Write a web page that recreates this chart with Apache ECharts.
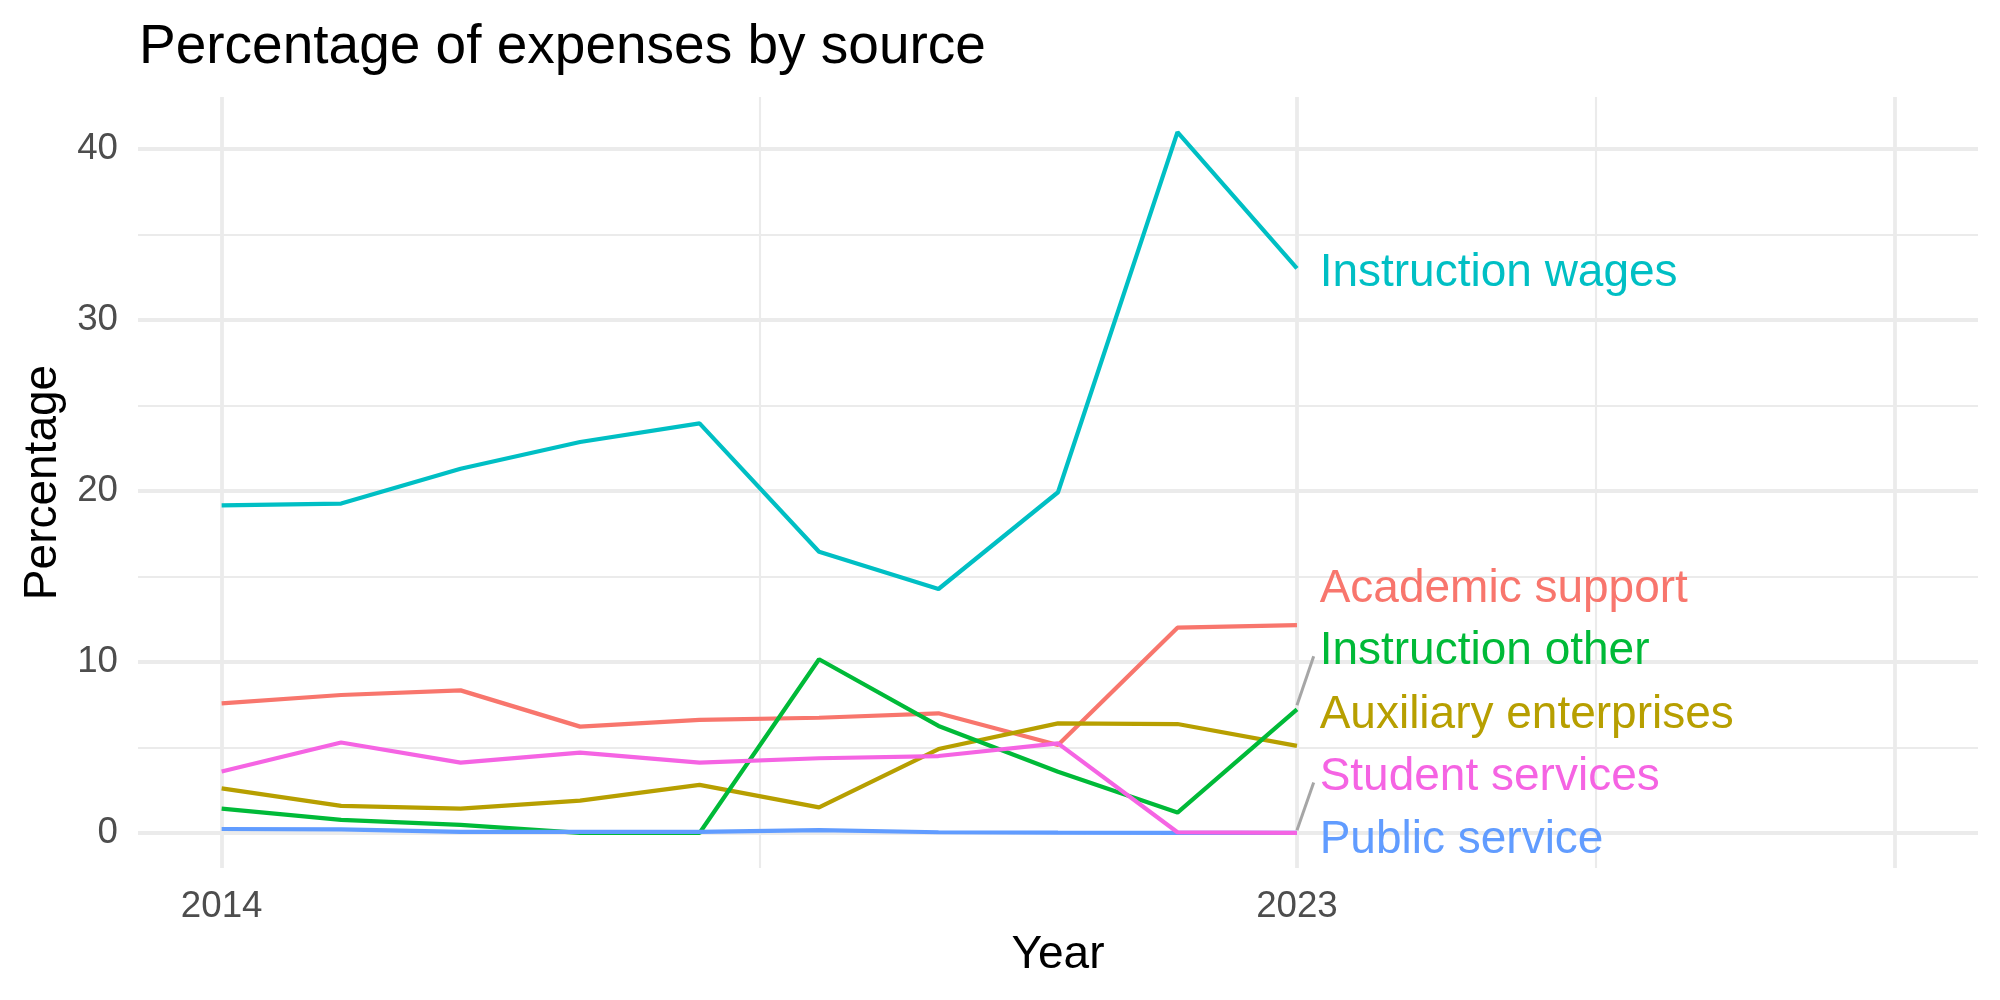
<!DOCTYPE html>
<html>
<head>
<meta charset="utf-8">
<title>Percentage of expenses by source</title>
<script src="https://cdn.jsdelivr.net/npm/echarts@6/dist/echarts.min.js"></script>
<style>
  html, body { margin: 0; padding: 0; background: #fff; }
  #chart { width: 2000px; height: 1000px; }
</style>
</head>
<body>
<div id="chart"></div>
<script>
// data (percent of expenses)
const years = [2014, 2015, 2016, 2017, 2018, 2019, 2020, 2021, 2022, 2023];
const seriesNames = ['Academic support', 'Auxiliary enterprises', 'Instruction other',
  'Instruction wages', 'Public service', 'Student services'];
const academicSupport = [7.58, 8.07, 8.34, 6.22, 6.61, 6.74, 7.0, 5.15, 12.01, 12.16];
const auxiliaryEnterprises = [2.61, 1.58, 1.42, 1.89, 2.81, 1.50, 4.91, 6.41, 6.37, 5.09];
const instructionOther = [1.42, 0.76, 0.47, 0.0, 0.0, 10.16, 6.26, 3.58, 1.19, 7.23];
const instructionWages = [19.16, 19.27, 21.3, 22.87, 23.96, 16.45, 14.27, 19.93, 41.0, 33.02];
const publicService = [0.23, 0.21, 0.06, 0.06, 0.06, 0.17, 0.04, 0.02, 0.01, 0.0];
const studentServices = [3.59, 5.29, 4.11, 4.70, 4.11, 4.37, 4.50, 5.24, 0.04, 0.0];

// axis breaks
const xLabelBreaks = [2014, 2023];
const xMajorBreaks = [2014, 2023, 2028];
const xMinorBreaks = [2018.5, 2025.5];
const yMajorBreaks = [0, 10, 20, 30, 40];
const yMinorBreaks = [5, 15, 25, 35];

// repelled end labels (data units) and their connector segments
const labelX = 2023.19;
const labelY = [14.27, 6.89, 10.61, 32.71, -0.42, 3.26];
const segmentOther = [[2023, 7.47], [2023.14, 10.34]];
const segmentStudent = [[2023, 0.16], [2023.14, 2.95]];

const colors = ['#F8766D', '#B79F00', '#00BA38', '#00BFC4', '#619CFF', '#F564E3'];
const values = [academicSupport, auxiliaryEnterprises, instructionOther,
  instructionWages, publicService, studentServices];

const font = "'Liberation Sans', Arial, sans-serif";

const chart = echarts.init(document.getElementById('chart'), null, { renderer: 'canvas' });

// grid lines as mark lines on an empty series
const gridLines = [];
yMajorBreaks.forEach(v => gridLines.push({ yAxis: v, lineStyle: { width: 3.8 } }));
yMinorBreaks.forEach(v => gridLines.push({ yAxis: v, lineStyle: { width: 2.1 } }));
xMajorBreaks.forEach(v => gridLines.push({ xAxis: v, lineStyle: { width: 3.8 } }));
xMinorBreaks.forEach(v => gridLines.push({ xAxis: v, lineStyle: { width: 2.1 } }));

const series = [{
  name: 'grid',
  type: 'line',
  data: [],
  silent: true,
  markLine: {
    silent: true,
    symbol: ['none', 'none'],
    label: { show: false },
    z: 0,
    lineStyle: { color: '#EBEBEB', type: 'solid' },
    emphasis: { disabled: true },
    data: gridLines
  }
}];

seriesNames.forEach((name, i) => {
  series.push({
    name: name,
    type: 'line',
    z: 3,
    data: years.map((y, j) => [y, values[i][j]]),
    showSymbol: false,
    symbol: 'none',
    lineStyle: { color: colors[i], width: 4.2 },
    emphasis: { disabled: true }
  });
});

[segmentOther, segmentStudent].forEach(seg => {
  series.push({
    type: 'line',
    z: 4,
    data: seg,
    symbol: 'none',
    lineStyle: { color: '#A6A6A6', width: 3 },
    emphasis: { disabled: true }
  });
});

series.push({
  type: 'scatter',
  z: 5,
  symbolSize: 0,
  itemStyle: { opacity: 1 },
  data: seriesNames.map((name, i) => ({
    name: name,
    value: [labelX, labelY[i]],
    label: { color: colors[i] }
  })),
  label: {
    show: true,
    position: 'right',
    distance: 0,
    opacity: 1,
    formatter: '{b}',
    fontSize: 46,
    fontFamily: font
  },
  emphasis: { disabled: true }
});

const option = {
  animation: false,
  backgroundColor: '#ffffff',
  title: {
    text: 'Percentage of expenses by source',
    left: 139,
    top: 20,
    padding: 0,
    textStyle: { fontSize: 55, fontWeight: 'normal', color: '#000', fontFamily: font }
  },
  grid: { left: 138, right: 22, top: 97, bottom: 132, containLabel: false },
  xAxis: {
    type: 'value',
    min: 2013.3,
    max: 2028.7,
    name: 'Year',
    nameLocation: 'middle',
    nameGap: 64,
    nameTextStyle: { fontSize: 46, color: '#000', fontFamily: font },
    axisLine: { show: false },
    axisTick: { show: false },
    splitLine: { show: false },
    axisLabel: {
      customValues: xLabelBreaks,
      formatter: v => String(v),
      fontSize: 36.7,
      color: '#4D4D4D',
      margin: 20,
      fontFamily: font
    }
  },
  yAxis: {
    type: 'value',
    min: -2.05,
    max: 43.05,
    name: 'Percentage',
    nameLocation: 'middle',
    nameGap: 72,
    nameTextStyle: { fontSize: 46, color: '#000', fontFamily: font },
    axisLine: { show: false },
    axisTick: { show: false },
    splitLine: { show: false },
    axisLabel: {
      customValues: yMajorBreaks,
      fontSize: 36.7,
      color: '#4D4D4D',
      margin: 20,
      fontFamily: font
    }
  },
  series: series
};

chart.setOption(option);
</script>
</body>
</html>
